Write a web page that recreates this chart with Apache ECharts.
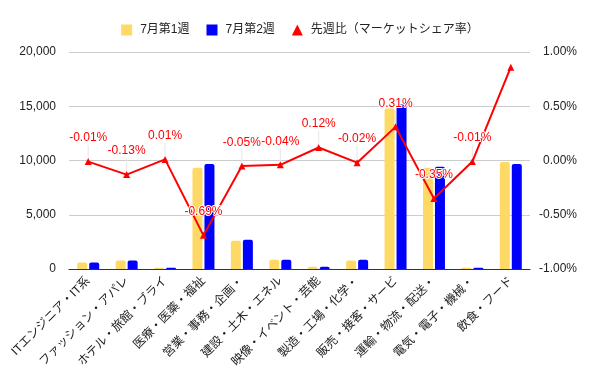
<!DOCTYPE html>
<html>
<head>
<meta charset="utf-8">
<script src="https://cdn.jsdelivr.net/npm/echarts@6/dist/echarts.min.js"></script>
<style>html,body{margin:0;padding:0;background:#fff}#c{width:600px;height:371px}</style>
</head>
<body>
<div id="c"></div>
<script>
const categories = ["ITエンジニア・IT系","ファッション・アパレ","ホテル・旅館・ブライ","医療・医薬・福祉","営業・事務・企画・","建設・土木・エネル","映像・イベント・芸能","製造・工場・化学・","販売・接客・サービ","運輸・物流・配送・","電気・電子・機械・","飲食・フード"];
const week1 = [600, 780, 120, 9340, 2600, 850, 210, 790, 14800, 9340, 120, 9860];
const week2 = [600, 790, 120, 9680, 2690, 850, 210, 850, 15160, 9430, 120, 9680];
const shareChange = [-0.01, -0.13, 0.01, -0.69, -0.05, -0.04, 0.12, -0.02, 0.31, -0.35, -0.01, 0.86];
const showShareLabel = [true, true, true, true, true, true, true, true, true, true, true, false];
const leftTicks = {min: 0, max: 20000, interval: 5000};
const rightTicks = {min: -1, max: 1, interval: 0.5};

const FONT = "'Liberation Sans', Arial, 'Noto Sans CJK JP', sans-serif";
const chart = echarts.init(document.getElementById('c'));
chart.setOption({
  animation: false,
  textStyle: {fontFamily: FONT},
  legend: {
    top: 19, left: 'center', itemWidth: 11, itemHeight: 11, itemGap: 17,
    textStyle: {fontSize: 12, color: '#222', fontFamily: FONT, padding: [0, 0, 0, 3]},
    data: [
      {name: '7月第1週', icon: 'rect'},
      {name: '7月第2週', icon: 'rect'},
      {name: '先週比（マーケットシェア率）', icon: 'triangle'}
    ]
  },
  grid: {left: 69, right: 70, top: 52, bottom: 102},
  xAxis: {
    type: 'category', data: categories,
    axisLine: {lineStyle: {color: '#333'}},
    axisTick: {show: false},
    axisLabel: {interval: 0, rotate: 45, margin: 10, fontSize: 12, color: '#222', fontFamily: FONT}
  },
  yAxis: [
    {
      type: 'value', min: leftTicks.min, max: leftTicks.max, interval: leftTicks.interval,
      axisLine: {show: false}, axisTick: {show: false},
      splitLine: {lineStyle: {color: '#ccc'}},
      axisLabel: {margin: 13, fontSize: 12, color: '#222', fontFamily: FONT,
        formatter: v => v.toLocaleString('en-US')}
    },
    {
      type: 'value', min: rightTicks.min, max: rightTicks.max, interval: rightTicks.interval,
      axisLine: {show: false}, axisTick: {show: false}, splitLine: {show: false},
      axisLabel: {margin: 47, align: 'right', fontSize: 12, color: '#222', fontFamily: FONT,
        formatter: v => v.toFixed(2) + '%'}
    }
  ],
  series: [
    {name: '7月第1週', type: 'bar', data: week1, barWidth: 10, barGap: '20%',
      itemStyle: {color: '#ffd966', borderRadius: [2, 2, 0, 0]}},
    {name: '7月第2週', type: 'bar', data: week2, barWidth: 10,
      itemStyle: {color: '#0000ff', borderRadius: [2, 2, 0, 0]}},
    {name: '先週比（マーケットシェア率）', type: 'line', yAxisIndex: 1, z: 5,
      data: shareChange.map((v, i) => ({value: v, label: {show: showShareLabel[i]}})),
      symbol: 'triangle', symbolSize: 7,
      lineStyle: {color: '#ff0000', width: 2},
      itemStyle: {color: '#ff0000'},
      label: {show: true, position: 'top', distance: 4, fontSize: 12, color: '#ff0000',
        fontFamily: FONT, textBorderColor: '#fff', textBorderWidth: 2,
        formatter: p => p.value.toFixed(2) + '%'},
      labelLayout: {dy: -10},
      labelLine: {show: true, lineStyle: {color: '#e6e6e6', width: 1}}
    }
  ]
});
</script>
</body>
</html>
